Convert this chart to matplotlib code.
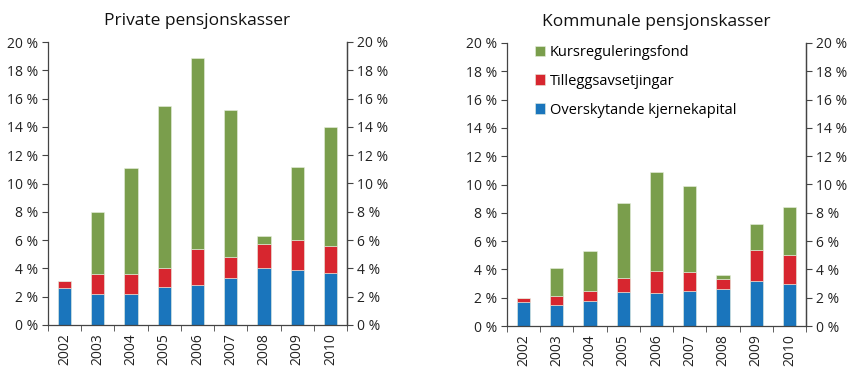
import matplotlib
matplotlib.use("Agg")
import matplotlib.pyplot as plt
import numpy as np

plt.rcParams['font.family'] = ['Open Sans', 'DejaVu Sans']

years = ['2002', '2003', '2004', '2005', '2006', '2007', '2008', '2009', '2010']
series_names = ['Overskytande kjernekapital', 'Tilleggsavsetjingar', 'Kursreguleringsfond']
colors = ['#1a75bc', '#d7262f', '#7a9e4c']

priv_kjerne = [2.6, 2.2, 2.2, 2.7, 2.8, 3.3, 4.0, 3.9, 3.7]
priv_tillegg = [0.5, 1.4, 1.4, 1.3, 2.6, 1.5, 1.7, 2.1, 1.9]
priv_kurs = [0.0, 4.4, 7.5, 11.5, 13.5, 10.4, 0.6, 5.2, 8.4]

komm_kjerne = [1.7, 1.5, 1.8, 2.4, 2.3, 2.5, 2.6, 3.2, 3.0]
komm_tillegg = [0.3, 0.6, 0.7, 1.0, 1.6, 1.3, 0.7, 2.2, 2.0]
komm_kurs = [0.0, 2.0, 2.8, 5.3, 7.0, 6.1, 0.3, 1.8, 3.4]

titles = ['Private pensjonskasser', 'Kommunale pensjonskasser']
yticks = list(range(0, 21, 2))
ytick_labels = [f'{v} %' for v in yticks]

fig = plt.figure(figsize=(8.5, 3.72), dpi=100)
axes = [fig.add_axes([48/850, 1-325/372, 299/850, 283/372]),
        fig.add_axes([507/850, 1-326/372, 299/850, 283/372])]

fs = 10
data = [(priv_kjerne, priv_tillegg, priv_kurs), (komm_kjerne, komm_tillegg, komm_kurs)]
x = np.arange(len(years))
for ax, d, title in zip(axes, data, titles):
    bottom = np.zeros(len(years))
    handles = []
    for vals, c, name in zip(d, colors, series_names):
        h = ax.bar(x, vals, 0.4, bottom=bottom, color=c, label=name,
                   edgecolor='#e8efe0', linewidth=0.4)
        handles.append(h)
        bottom = bottom + np.array(vals)
    ax.set_xlim(-0.5, len(years) - 0.5)
    ax.set_ylim(0, 20)
    ax.set_yticks(yticks)
    ax.set_yticklabels(ytick_labels, fontsize=fs, color='#222222')
    ax.set_xticks(x)
    ax.set_xticklabels(years, rotation=90, fontsize=fs, color='#222222')
    ax.tick_params(axis='x', which='major', length=0, pad=6)
    ax.set_xticks(np.arange(-0.5, len(years), 1.0), minor=True)
    ax.tick_params(axis='x', which='minor', length=4, direction='out', color='#444444')
    ax.tick_params(axis='y', length=4, direction='out', color='#444444', pad=3)
    ax.spines['top'].set_visible(False)
    for s in ['left', 'right', 'bottom']:
        ax.spines[s].set_color('#444444')
        ax.spines[s].set_linewidth(0.9)
    ax2 = ax.twinx()
    ax2.set_ylim(0, 20)
    ax2.set_yticks(yticks)
    ax2.set_yticklabels(ytick_labels, fontsize=fs, color='#222222')
    ax2.tick_params(axis='y', length=4, direction='out', color='#444444', pad=3)
    for s in ['top', 'left', 'bottom']:
        ax2.spines[s].set_visible(False)
    ax2.spines['right'].set_color('#444444')
    ax2.spines['right'].set_linewidth(0.9)
    ax.set_title(title, fontsize=12.5, pad=12, color='#111111')
    if ax is axes[1]:
        ax.legend(handles[::-1], [h.get_label() for h in handles[::-1]],
                  loc='upper left', bbox_to_anchor=(0.05, 1.04), frameon=False,
                  fontsize=10.5, handlelength=0.7, handleheight=0.7,
                  handletextpad=0.3, labelspacing=0.95)

fig.savefig('out.png', dpi=100)
